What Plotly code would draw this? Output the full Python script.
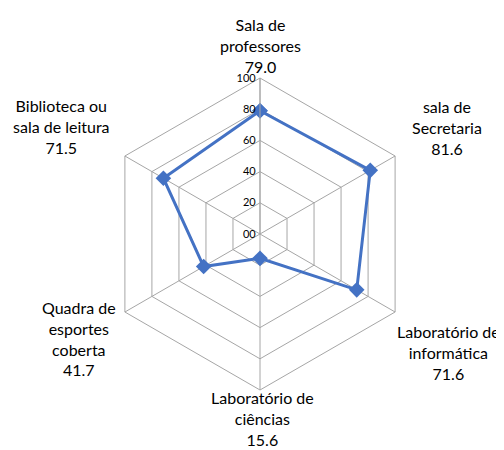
import math
import plotly.graph_objects as go

categories = ["Sala de<br>professores", "sala de<br>Secretaria", "Laboratório de<br>informática",
              "Laboratório de<br>ciências", "Quadra de<br>esportes<br>coberta", "Biblioteca ou<br>sala de leitura"]
values = [79.0, 81.6, 71.6, 15.6, 41.7, 71.5]
radial_ticks = [0, 20, 40, 60, 80, 100]
radial_ticktext = ["00", "20", "40", "60", "80", "100"]

# page body has an 8px margin; work in screen px and subtract it
OFF = 8
W, H = 504 - OFF, 450 - OFF
cx, cy, R = 260 - OFF, 234 - OFF, 156

fig = go.Figure()
fig.add_trace(go.Scatterpolar(
    r=values + [values[0]],
    theta=categories + [categories[0]],
    mode="lines+markers",
    line=dict(color="#4472C4", width=3),
    marker=dict(symbol="diamond", size=12, color="#4472C4"),
    showlegend=False,
))

# category label centres as px offsets from each outer vertex
label_offsets = [(0, -33), (52, -28), (53, 40), (2, 28), (-46, 26), (-63, -29)]
for i, (c, v) in enumerate(zip(categories, values)):
    ang = math.radians(90 - 60 * i)
    vx = cx + R * math.cos(ang)
    vy = cy - R * math.sin(ang)
    dx, dy = label_offsets[i]
    fig.add_annotation(
        x=(vx + dx) / W, y=1 - (vy + dy) / H, xref="paper", yref="paper",
        text=f"{c}<br>{v:.1f}", showarrow=False, xanchor="center", yanchor="middle",
        align="center", font=dict(size=16, color="#000000"),
    )

fig.update_layout(
    width=W, height=H, autosize=False,
    margin=dict(l=0, r=0, t=0, b=0),
    paper_bgcolor="white",
    font=dict(family="Lato, Liberation Sans, sans-serif", color="#000000"),
    polar=dict(
        domain=dict(x=[(cx - R) / W, (cx + R) / W], y=[1 - (cy + R) / H, 1 - (cy - R) / H]),
        bgcolor="white",
        gridshape="linear",
        angularaxis=dict(
            direction="clockwise", rotation=90,
            tickmode="array", tickvals=categories, showticklabels=False,
            showline=True, linecolor="#A6A6A6", linewidth=1,
            gridcolor="#A6A6A6", gridwidth=1, ticks="",
        ),
        radialaxis=dict(
            range=[0, 100], angle=90, tickangle=90,
            tickmode="array", tickvals=radial_ticks, ticktext=radial_ticktext,
            tickfont=dict(size=11),
            showline=True, linecolor="#A6A6A6", gridcolor="#A6A6A6",
            ticks="", side="counterclockwise",
        ),
    ),
)

fig.write_html("out.html")
